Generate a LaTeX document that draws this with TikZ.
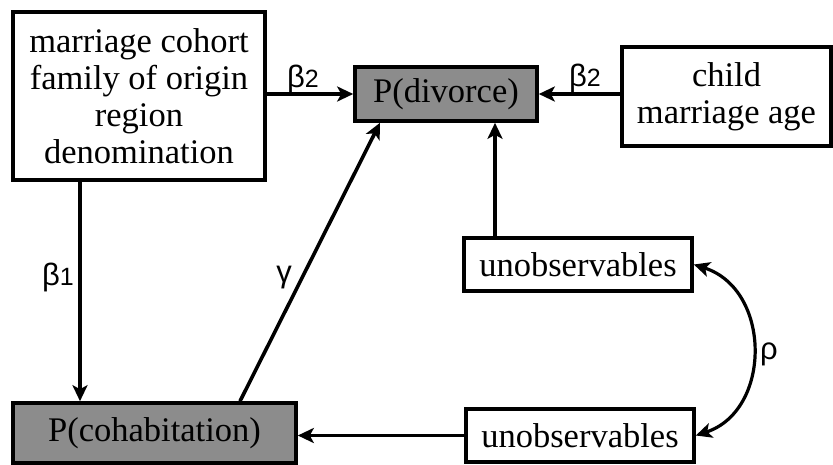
\documentclass[tikz,border=0pt]{standalone}
\usepackage{fontspec}
\setmainfont{Liberation Serif}
\newfontfamily\gsans{Liberation Sans}
\usetikzlibrary{arrows.meta}
\definecolor{boxgray}{RGB}{140,140,140}
\newcommand\mysub[1]{{\fontsize{25}{27}\selectfont #1}}
\begin{document}
\begin{tikzpicture}[x=1pt,y=-1pt,
 box/.style={draw,line width=3.6pt,inner sep=0pt,align=center,font=\fontsize{34.5}{37}\selectfont},
 shaded/.style={box,fill=boxgray},
 arr/.style={line width=3.6pt,-{Stealth[length=16pt,width=15pt,inset=4pt]}},
 arrr/.style={line width=3.2pt,{Stealth[length=16pt,width=15pt,inset=4pt]}-{Stealth[length=16pt,width=15pt,inset=4pt]}},
 lab/.style={font=\gsans\fontsize{31}{33}\selectfont, inner sep=0pt}
]
\useasboundingbox (0,0) rectangle (833,464);
\node[box,minimum width=252pt,minimum height=168pt] (A) at (139,96)
  {marriage cohort\\family of origin\\region\hspace*{26pt}\\denomination};
\node[shaded,minimum width=182pt,minimum height=54pt] (D) at (446,94) {P(divorce)};
\node[box,minimum width=209pt,minimum height=99pt] (C) at (726.5,96.5) {child\\marriage age};
\node[box,minimum width=228pt,minimum height=53pt] (U1) at (578,264.5) {unobservables};
\node[box,minimum width=228pt,minimum height=53pt] (U2) at (580,435.5) {unobservables};
\node[shaded,minimum width=283pt,minimum height=60pt] (H) at (154.5,433) {P(cohabitation)};

\draw[arr] (A.east |- D.west) -- (D.west);
\draw[arr] (C.west |- D.east) -- (D.east);
\draw[arr] ([xshift=-59pt]A.south) -- ([xshift=-59pt]A.south |- H.north);
\draw[arr] ([xshift=85.5pt]H.north) -- ([xshift=-66pt]D.south);
\draw[arr] ([xshift=-83pt]U1.north) -- ([xshift=-83pt]U1.north |- D.south);
\draw[arr] (U2.west) -- (U2.west -| H.east);
\draw[arrr] (U1.east) .. controls +(78,25) and +(76,-25) .. (U2.east);

\node[lab] (l1) at (303,79) {β\mysub{2}};
\node[lab] (l2) at (585,78) {β\mysub{2}};
\node[lab] (l3) at (58,277) {β\mysub{1}};
\node[lab] (l4) at (284,278) {γ};
\node[lab] (l5) at (769,354) {ρ};
\end{tikzpicture}
\end{document}
